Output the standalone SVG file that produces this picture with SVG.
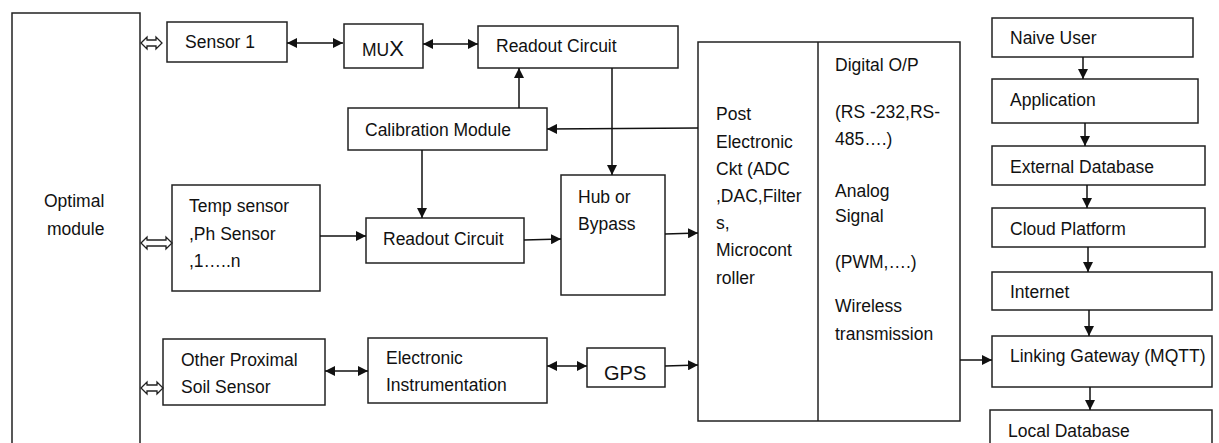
<svg xmlns="http://www.w3.org/2000/svg" width="1219" height="443" viewBox="0 0 1219 443">
<defs>
<style>
rect.b{fill:#fff;stroke:#222;stroke-width:1.5}
text{font-family:"Liberation Sans",Arial,sans-serif;font-size:17.5px;fill:#111}
.c line,.c path{stroke:#111;stroke-width:1.5;fill:none}
.h{fill:#fff;stroke:#222;stroke-width:1.3}
</style>
<marker id="a" viewBox="0 0 10 10" refX="10" refY="5" markerWidth="10" markerHeight="10" markerUnits="userSpaceOnUse" orient="auto-start-reverse">
<path d="M0,0 L10,5 L0,10 z" fill="#111"/>
</marker>
</defs>
<rect width="1219" height="443" fill="#fff"/>

<g id="optimal"><rect class="b" x="12" y="13" width="128" height="450"/><text x="44" y="207">Optimal</text><text x="47" y="235">module</text></g>
<g id="sensor1"><rect class="b" x="167" y="22" width="120" height="40"/><text x="185" y="48">Sensor 1</text></g>
<g id="mux"><rect class="b" x="344" y="24" width="79" height="44"/><text x="362" y="56">MU<tspan style="font-size:22px">X</tspan></text></g>
<g id="readout1"><rect class="b" x="478" y="26" width="200" height="42"/><text x="496" y="52">Readout Circuit</text></g>
<g id="calibration"><rect class="b" x="348" y="108" width="199" height="42"/><text x="365" y="136">Calibration Module</text></g>
<g id="temp"><rect class="b" x="172" y="185" width="148" height="106"/><text x="189" y="212">Temp sensor</text><text x="189" y="240">,Ph Sensor</text><text x="189" y="267">,1…..n</text></g>
<g id="readout2"><rect class="b" x="366" y="218" width="158" height="45"/><text x="383" y="245">Readout Circuit</text></g>
<g id="hub"><rect class="b" x="561" y="175" width="104" height="120"/><text x="578" y="203">Hub or</text><text x="578" y="230">Bypass</text></g>
<g id="other"><rect class="b" x="163" y="339" width="162" height="66"/><text x="181" y="366">Other Proximal</text><text x="181" y="393">Soil Sensor</text></g>
<g id="electronic"><rect class="b" x="368" y="338" width="179" height="65"/><text x="386" y="364">Electronic</text><text x="386" y="391">Instrumentation</text></g>
<g id="gps"><rect class="b" x="587" y="348" width="78" height="39"/><text x="604" y="380" style="font-size:20px">GPS</text></g>
<g id="post"><rect class="b" x="698" y="42" width="262" height="379"/><line x1="818" y1="42" x2="818" y2="421" stroke="#222" stroke-width="1.5"/>
<text x="716" y="120">Post</text><text x="716" y="148">Electronic</text><text x="716" y="175">Ckt (ADC</text><text x="716" y="202">,DAC,Filter</text><text x="716" y="229">s,</text><text x="716" y="256">Microcont</text><text x="716" y="284">roller</text>
<text x="835" y="71">Digital O/P</text><text x="835" y="118">(RS -232,RS-</text><text x="835" y="145">485….)</text><text x="835" y="197">Analog</text><text x="835" y="222">Signal</text><text x="835" y="268">(PWM,….)</text><text x="835" y="312">Wireless</text><text x="835" y="340">transmission</text></g>
<g id="naive"><rect class="b" x="992" y="18" width="201" height="39"/><text x="1010" y="44">Naive User</text></g>
<g id="application"><rect class="b" x="992" y="79" width="206" height="44"/><text x="1010" y="106">Application</text></g>
<g id="extdb"><rect class="b" x="992" y="146" width="213" height="39"/><text x="1010" y="173">External Database</text></g>
<g id="cloud"><rect class="b" x="992" y="208" width="213" height="39"/><text x="1010" y="235">Cloud Platform</text></g>
<g id="internet"><rect class="b" x="992" y="272" width="220" height="38"/><text x="1010" y="298">Internet</text></g>
<g id="gateway"><rect class="b" x="992" y="336" width="220" height="51"/><text x="1010" y="362">Linking Gateway (MQTT)</text></g>
<g id="localdb"><rect class="b" x="990" y="410" width="222" height="50"/><text x="1008" y="437">Local Database</text></g>

<g id="connectors" class="c">
<polygon class="h" points="141,43 147,37 147,40 156,40 156,37 162,43 156,49 156,46 147,46 147,49"/>
<polygon class="h" points="141,243 147,237 147,240 166,240 166,237 172,243 166,249 166,246 147,246 147,249"/>
<polygon class="h" points="141,388 147,382 147,385 157,385 157,382 163,388 157,394 157,391 147,391 147,394"/>
<line x1="287" y1="43" x2="343" y2="43" marker-start="url(#a)" marker-end="url(#a)"/>
<line x1="423" y1="44" x2="478" y2="44" marker-start="url(#a)" marker-end="url(#a)"/>
<line x1="519" y1="108" x2="519" y2="68" marker-end="url(#a)"/>
<line x1="698" y1="128" x2="547" y2="129" marker-end="url(#a)"/>
<line x1="612" y1="68" x2="612" y2="175" marker-end="url(#a)"/>
<line x1="422" y1="150" x2="422" y2="218" marker-end="url(#a)"/>
<line x1="320" y1="236" x2="366" y2="236" marker-end="url(#a)"/>
<line x1="524" y1="240" x2="561" y2="239" marker-end="url(#a)"/>
<line x1="665" y1="234" x2="698" y2="233" marker-end="url(#a)"/>
<line x1="325" y1="371" x2="368" y2="371" marker-start="url(#a)" marker-end="url(#a)"/>
<line x1="547" y1="366" x2="587" y2="366" marker-start="url(#a)" marker-end="url(#a)"/>
<line x1="665" y1="366" x2="698" y2="365" marker-end="url(#a)"/>
<line x1="960" y1="360" x2="992" y2="360" marker-end="url(#a)"/>
<line x1="1083" y1="57" x2="1083" y2="79" marker-end="url(#a)"/>
<line x1="1085" y1="123" x2="1085" y2="146" marker-end="url(#a)"/>
<line x1="1087" y1="185" x2="1087" y2="208" marker-end="url(#a)"/>
<line x1="1088" y1="247" x2="1088" y2="272" marker-end="url(#a)"/>
<line x1="1089" y1="310" x2="1089" y2="336" marker-end="url(#a)"/>
<line x1="1090" y1="387" x2="1090" y2="410" marker-end="url(#a)"/>
</g>
</svg>
